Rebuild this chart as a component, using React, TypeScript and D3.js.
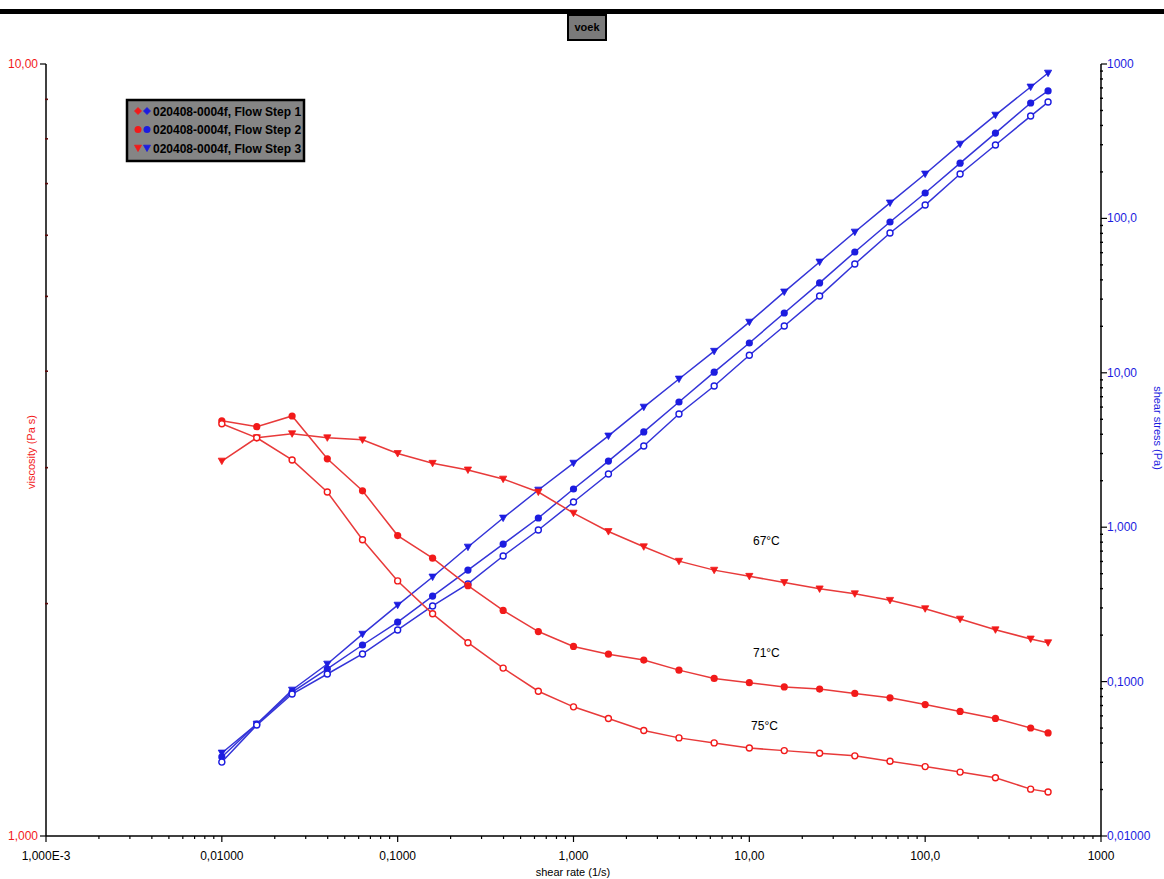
import React from 'react';
import * as d3 from 'd3';

const shearRate = [0.01, 0.0158, 0.0251, 0.0398, 0.0631, 0.1, 0.158, 0.251, 0.398, 0.631, 1, 1.58, 2.51, 3.98, 6.31, 10, 15.8, 25.1, 39.8, 63.1, 100, 158, 251, 398, 500];

const visc67 = [3.06, 3.28, 3.32, 3.28, 3.26, 3.13, 3.04, 2.98, 2.90, 2.79, 2.62, 2.48, 2.37, 2.27, 2.21, 2.17, 2.13, 2.09, 2.06, 2.02, 1.97, 1.91, 1.85, 1.80, 1.78];
const visc71 = [3.45, 3.39, 3.50, 3.08, 2.80, 2.45, 2.29, 2.11, 1.96, 1.84, 1.76, 1.72, 1.69, 1.64, 1.60, 1.58, 1.56, 1.55, 1.53, 1.51, 1.48, 1.45, 1.42, 1.38, 1.36];
const visc75 = [3.42, 3.28, 3.07, 2.79, 2.42, 2.14, 1.94, 1.78, 1.65, 1.54, 1.47, 1.42, 1.37, 1.34, 1.32, 1.30, 1.29, 1.28, 1.27, 1.25, 1.23, 1.21, 1.19, 1.15, 1.14];

const stress67 = [0.0345, 0.0531, 0.0882, 0.130, 0.203, 0.313, 0.476, 0.744, 1.147, 1.741, 2.60, 3.90, 6.00, 9.12, 13.8, 21.3, 33.4, 52.2, 81.6, 126, 194, 303, 467, 710, 874];
const stress71 = [0.0325, 0.0531, 0.0856, 0.1207, 0.1726, 0.243, 0.358, 0.528, 0.778, 1.147, 1.768, 2.68, 4.14, 6.47, 10.1, 15.6, 24.4, 38.2, 60.6, 94.8, 146, 228, 357, 559, 669];
const stress75 = [0.0301, 0.0523, 0.0831, 0.112, 0.151, 0.216, 0.309, 0.429, 0.651, 0.959, 1.457, 2.21, 3.36, 5.41, 8.21, 13.0, 20.1, 31.4, 50.7, 80.4, 122, 194, 299, 460, 567];

const xTickValues = [0.001, 0.01, 0.1, 1, 10, 100, 1000];
const xTickLabels = ['1,000E-3', '0,01000', '0,1000', '1,000', '10,00', '100,0', '1000'];
const leftTickValues = [1, 10];
const leftTickLabels = ['1,000', '10,00'];
const rightTickValues = [0.01, 0.1, 1, 10, 100, 1000];
const rightTickLabels = ['0,01000', '0,1000', '1,000', '10,00', '100,0', '1000'];

const legendLabels = ['020408-0004f, Flow Step 1', '020408-0004f, Flow Step 2', '020408-0004f, Flow Step 3'];
const tempLabels = ['67°C', '71°C', '75°C'];
const tempLabelRate = [12.5, 12.5, 12.2];
const tempLabelVisc = [2.38, 1.706, 1.372];

const RED = '#f21a1a';
const RED_LINE = '#e83a3a';
const BLUE = '#1c1ce0';
const BLUE_LINE = '#3434d8';
const FONT = '"Liberation Sans Narrow", "Liberation Sans", Arial, sans-serif';

type Shape = 'tri' | 'dot' | 'ring' | 'diamond';

function Marker({ x, y, shape, color, r = 3.6 }: { x: number; y: number; shape: Shape; color: string; r?: number }) {
  if (shape === 'tri') {
    const p = `${x - r},${y - r * 0.8} ${x + r},${y - r * 0.8} ${x},${y + r}`;
    return <polygon points={p} fill={color} stroke={color} strokeWidth={0.8} />;
  }
  if (shape === 'diamond') {
    const p = `${x},${y - r} ${x + r},${y} ${x},${y + r} ${x - r},${y}`;
    return <polygon points={p} fill={color} stroke={color} strokeWidth={0.8} />;
  }
  if (shape === 'ring') {
    return <circle cx={x} cy={y} r={r - 0.6} fill="#fff" stroke={color} strokeWidth={1.4} />;
  }
  return <circle cx={x} cy={y} r={r} fill={color} />;
}

export default function App() {
  const W = 1164;
  const H = 879;
  const x = d3.scaleLog().domain([0.001, 1000]).range([46, 1101]);
  const yL = d3.scaleLog().domain([1, 10]).range([836, 64]);
  const yR = d3.scaleLog().domain([0.01, 1000]).range([836, 64]);

  const viscSeries = [
    { v: visc67, shape: 'tri' as Shape },
    { v: visc71, shape: 'dot' as Shape },
    { v: visc75, shape: 'ring' as Shape },
  ];
  const stressSeries = [
    { v: stress67, shape: 'tri' as Shape },
    { v: stress71, shape: 'dot' as Shape },
    { v: stress75, shape: 'ring' as Shape },
  ];

  const lineL = d3.line<number>().x((_, i) => x(shearRate[i])).y((d) => yL(d));
  const lineR = d3.line<number>().x((_, i) => x(shearRate[i])).y((d) => yR(d));

  const xMinor: number[] = [];
  for (let e = -3; e < 3; e++) for (let m = 2; m <= 9; m++) xMinor.push(m * Math.pow(10, e));
  const lMinor: number[] = [];
  for (let m = 2; m <= 9; m++) lMinor.push(m);
  const rMinor: number[] = [];
  for (let e = -2; e < 3; e++) for (let m = 2; m <= 9; m++) rMinor.push(m * Math.pow(10, e));

  const legendMarkers: Shape[] = ['diamond', 'dot', 'tri'];

  return (
    <svg width={W} height={H} style={{ position: 'absolute', left: 0, top: 0, background: '#fff' }} fontFamily={FONT}>
      <rect x={0} y={0} width={W} height={H} fill="#fff" />
      {/* top bar */}
      <rect x={0} y={9} width={W} height={5} fill="#000" />
      {/* title box */}
      <rect x={568} y={15} width={38} height={25} fill="#7a7a7a" stroke="#000" strokeWidth={2} />
      <text x={587} y={31} textAnchor="middle" fontSize={11} fontWeight="bold" fill="#000">voek</text>

      {/* axes lines */}
      <line x1={46} y1={64} x2={46} y2={836} stroke="#000" strokeWidth={1.5} />
      <line x1={1101} y1={64} x2={1101} y2={836} stroke="#000" strokeWidth={1.5} />
      <line x1={46} y1={836} x2={1101} y2={836} stroke="#000" strokeWidth={1.5} />

      {/* x ticks */}
      {xTickValues.map((t, i) => (
        <g key={'xt' + i}>
          <line x1={x(t)} y1={836} x2={x(t)} y2={842} stroke="#000" strokeWidth={1.2} />
          <text x={x(t)} y={860} textAnchor="middle" fontSize={12} fill="#000">{xTickLabels[i]}</text>
        </g>
      ))}
      {xMinor.map((t, i) => (
        <line key={'xm' + i} x1={x(t)} y1={836} x2={x(t)} y2={839} stroke="#000" strokeWidth={1.2} />
      ))}
      <text x={573} y={876} textAnchor="middle" fontSize={11} fill="#000">shear rate (1/s)</text>

      {/* left ticks */}
      {leftTickValues.map((t, i) => (
        <g key={'lt' + i}>
          <line x1={40} y1={yL(t)} x2={46} y2={yL(t)} stroke="#000" strokeWidth={1.2} />
          <text x={38} y={yL(t) + 4} textAnchor="end" fontSize={12} fill={RED}>{leftTickLabels[i]}</text>
        </g>
      ))}
      {lMinor.map((t, i) => (
        <line key={'lm' + i} x1={45} y1={yL(t)} x2={48} y2={yL(t)} stroke="#5a0a0a" strokeWidth={1.6} />
      ))}
      <text transform={`translate(35,452) rotate(-90)`} textAnchor="middle" fontSize={11} fill={RED}>viscosity (Pa s)</text>

      {/* right ticks */}
      {rightTickValues.map((t, i) => (
        <g key={'rt' + i}>
          <line x1={1101} y1={yR(t)} x2={1107} y2={yR(t)} stroke="#000" strokeWidth={1.2} />
          <text x={1107} y={yR(t) + 4} textAnchor="start" fontSize={12} fill={BLUE}>{rightTickLabels[i]}</text>
        </g>
      ))}
      {rMinor.map((t, i) => (
        <line key={'rm' + i} x1={1100} y1={yR(t)} x2={1103} y2={yR(t)} stroke="#000" strokeWidth={1.4} />
      ))}
      <text transform={`translate(1154,428) rotate(90)`} textAnchor="middle" fontSize={11} fill={BLUE}>shear stress (Pa)</text>

      {/* stress series (blue) */}
      {stressSeries.map((s, si) => (
        <g key={'bs' + si}>
          <path d={lineR(s.v) || ''} fill="none" stroke={BLUE_LINE} strokeWidth={1.5} />
          {s.v.map((d, i) => (
            <Marker key={i} x={x(shearRate[i])} y={yR(d)} shape={s.shape} color={BLUE} />
          ))}
        </g>
      ))}

      {/* viscosity series (red) */}
      {viscSeries.map((s, si) => (
        <g key={'rs' + si}>
          <path d={lineL(s.v) || ''} fill="none" stroke={RED_LINE} strokeWidth={1.5} />
          {s.v.map((d, i) => (
            <Marker key={i} x={x(shearRate[i])} y={yL(d)} shape={s.shape} color={RED} />
          ))}
        </g>
      ))}

      {/* temperature labels */}
      {tempLabels.map((t, i) => (
        <text key={'tl' + i} x={x(tempLabelRate[i])} y={yL(tempLabelVisc[i])} textAnchor="middle" fontSize={12} fill="#000">{t}</text>
      ))}

      {/* legend */}
      <rect x={127} y={100} width={177} height={61} fill="#858585" stroke="#000" strokeWidth={2.5} />
      {legendLabels.map((l, i) => (
        <g key={'lg' + i}>
          <Marker x={138} y={111 + i * 18.5} shape={legendMarkers[i]} color={RED} r={3.5} />
          <Marker x={147} y={111 + i * 18.5} shape={legendMarkers[i]} color={BLUE} r={3.5} />
          <text x={153} y={115.5 + i * 18.5} fontSize={12} fontWeight="bold" fill="#000">{l}</text>
        </g>
      ))}
    </svg>
  );
}
